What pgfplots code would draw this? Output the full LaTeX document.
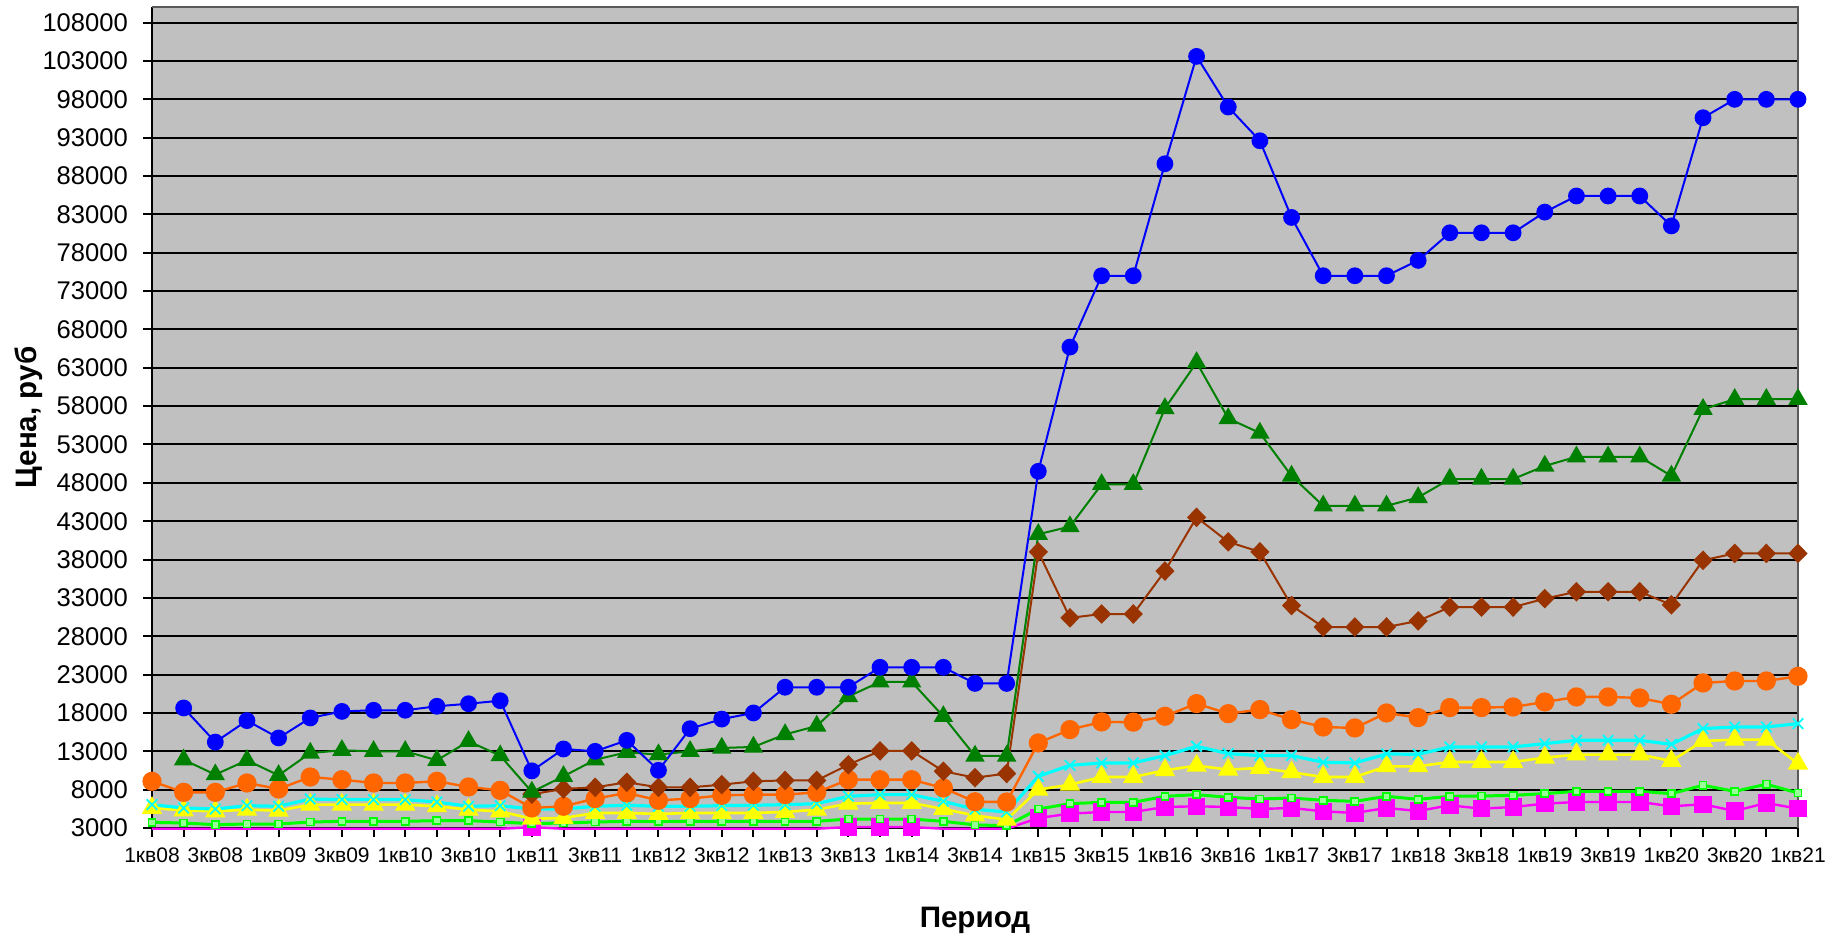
\documentclass[border=0pt]{standalone}
\usepackage{pgfplots}
\pgfplotsset{compat=1.18}
\usepackage{pgfplotstable}
\usepackage{fontspec}
\setmainfont{Liberation Sans}
\definecolor{bgray}{HTML}{C0C0C0}
\definecolor{cblue}{HTML}{0000FF}
\definecolor{cgreen}{HTML}{008000}
\definecolor{cbrown}{HTML}{993300}
\definecolor{corange}{HTML}{FF6600}
\definecolor{ccyan}{HTML}{00FFFF}
\definecolor{cyellow}{HTML}{FFFF00}
\definecolor{clime}{HTML}{00FF00}
\definecolor{cmag}{HTML}{FF00FF}
\pgfplotstableread{
i blue green brown orange cyan yellow lime mag
0 nan nan nan 9090 6040 5610 3740 2900
1 18650 11900 nan 7650 5610 5300 3650 2900
2 14200 9960 nan 7650 5480 5170 3430 2900
3 17000 11830 nan 8870 5910 5390 3520 2900
4 14740 9870 nan 8090 5830 5260 3520 2900
5 17350 12780 nan 9650 6780 6040 3780 2900
6 18200 13130 nan 9300 6700 6040 3870 2900
7 18350 13000 nan 8870 6700 6040 3870 2900
8 18350 13000 nan 8870 6700 6040 3870 2900
9 18870 11830 nan 9090 6390 5830 3960 2900
10 19200 14300 nan 8350 5830 5390 3960 2900
11 19600 12440 nan 7910 5910 5170 3780 2900
12 10450 7700 7400 5610 5480 4200 3570 3100
13 13300 9740 8090 5830 5480 4300 3650 2900
14 13000 11900 8300 6830 5830 4960 3780 2900
15 14430 12870 8960 7570 5960 4960 3870 2900
16 10520 12570 8300 6610 5830 4830 3870 2900
17 15950 13000 8300 6830 5830 4960 3870 2900
18 17200 13430 8650 7260 5910 4960 3870 2900
19 18000 13570 9090 7350 5960 4960 3870 2900
20 21350 15200 9200 7350 6040 5090 3870 2900
21 21350 16300 9200 7650 6170 5390 3870 2900
22 21350 20150 11250 9300 7130 6170 4170 3130
23 23950 22050 13050 9300 7350 6260 4170 3130
24 23950 22050 13050 9300 7350 6260 4170 3130
25 23950 17550 10400 8220 6480 5480 3870 2900
26 21850 12400 9560 6420 5440 4630 3400 2900
27 21850 12400 10100 6390 5090 4090 3300 2900
28 49500 41300 39000 14090 9740 8000 5480 4300
29 65700 42300 30400 15830 11170 8650 6170 4870
30 75000 47800 30900 16830 11480 9650 6350 5090
31 75000 47800 30900 16800 11480 9650 6350 5090
32 89600 57700 36500 17570 12440 10520 7130 5740
33 103600 63700 43500 19220 13650 11130 7350 5830
34 97000 56400 40300 17910 12700 10610 7000 5740
35 92600 54500 39000 18440 12440 10830 6780 5480
36 82600 48900 32000 17130 12440 10260 6910 5610
37 75000 45000 29200 16170 11570 9650 6610 5170
38 75000 45000 29200 16040 11480 9650 6480 4960
39 75000 45000 29200 18000 12650 11040 7130 5610
40 77000 46100 30000 17390 12610 11040 6740 5220
41 80600 48500 31800 18700 13570 11610 7130 5960
42 80600 48500 31800 18700 13570 11610 7170 5520
43 80600 48500 31800 18780 13570 11610 7260 5740
44 83300 50200 32900 19430 14000 12170 7480 6170
45 85400 51400 33800 20090 14430 12570 7780 6390
46 85400 51400 33800 20090 14430 12570 7780 6390
47 85400 51400 33800 19960 14430 12570 7780 6390
48 81500 48900 32100 19130 13910 11740 7480 5830
49 95600 57600 37900 21910 15960 14350 8570 6090
50 98000 58900 38800 22170 16170 14520 7780 5220
51 98000 58900 38800 22170 16170 14520 8700 6260
52 98000 58900 38800 22780 16610 11390 7570 5520
}\data
\begin{document}
\begin{tikzpicture}
\path[use as bounding box] (-76pt,-54.5pt) rectangle (842.5pt,414pt);
\begin{axis}[
  at={(0,0)}, anchor=south west,
  scale only axis, width=823pt, height=410.5pt,
  xmin=0, xmax=52, ymin=3000, ymax=110040,
  clip=false,
  ytick={3000,8000,...,108000},
  scaled y ticks=false,
  yticklabel style={font=\fontsize{12.8}{14}\selectfont, xshift=-4pt, /pgf/number format/fixed, /pgf/number format/1000 sep={}, /pgf/number format/assume math mode=true},
  xticklabel style={font=\fontsize{10.5}{12}\selectfont, yshift=-2pt},
  xtick={0,2,...,52},
  xticklabels={1кв08,3кв08,1кв09,3кв09,1кв10,3кв10,1кв11,3кв11,1кв12,3кв12,1кв13,3кв13,1кв14,3кв14,1кв15,3кв15,1кв16,3кв16,1кв17,3кв17,1кв18,3кв18,1кв19,3кв19,1кв20,3кв20,1кв21},
  minor xtick={1,3,...,51},
  tick align=outside, major tick length=4.5pt, minor tick length=4.5pt,
  tick style={black, line width=1pt},
  ymajorgrids, major grid style={black, line width=1pt},
  axis background/.style={fill=bgray},
  axis x line*=bottom, axis y line*=left,
  axis line style={-, black, line width=1pt},
  xlabel={Период}, ylabel={Цена, руб},
  xlabel style={at={(axis description cs:0.5,0)}, anchor=center, yshift=-46pt, font=\bfseries\fontsize{14.8}{16}\selectfont},
  ylabel style={at={(axis description cs:0,0.5)}, anchor=center, yshift=61.75pt, font=\bfseries\fontsize{14.8}{16}\selectfont},
]
\draw[gray!70!black, line width=0.6pt] (rel axis cs:0,1) -- (rel axis cs:1,1) -- (rel axis cs:1,0);
\addplot[cmag, line width=1.2pt] table[x=i, y=mag] {\data};
\addplot[only marks, mark=square*, mark size=4.1pt, cmag, restrict y to domain=3000:200000] table[x=i, y=mag] {\data};
\addplot[clime, line width=1.5pt, mark=square*, mark size=1.8pt, mark options={fill=clime!40!white, draw=clime, line width=0.8pt}] table[x=i, y=lime] {\data};
\addplot[cyellow, line width=1.3pt, mark=triangle*, mark size=4.6pt] table[x=i, y=yellow] {\data};
\addplot[ccyan, line width=1.6pt, mark=x, mark size=3.7pt, mark options={line width=0.9pt}] table[x=i, y=cyan] {\data};
\addplot[corange, line width=1.2pt, mark=*, mark size=4.2pt] table[x=i, y=orange] {\data};
\addplot[cbrown, line width=1pt, mark=diamond*, mark size=4.2pt, mark options={xscale=1.3}] table[x=i, y=brown] {\data};
\addplot[cgreen, line width=1pt, mark=triangle*, mark size=4.6pt] table[x=i, y=green] {\data};
\addplot[cblue, line width=1pt, mark=*, mark size=3.7pt] table[x=i, y=blue] {\data};
\end{axis}
\end{tikzpicture}
\end{document}
